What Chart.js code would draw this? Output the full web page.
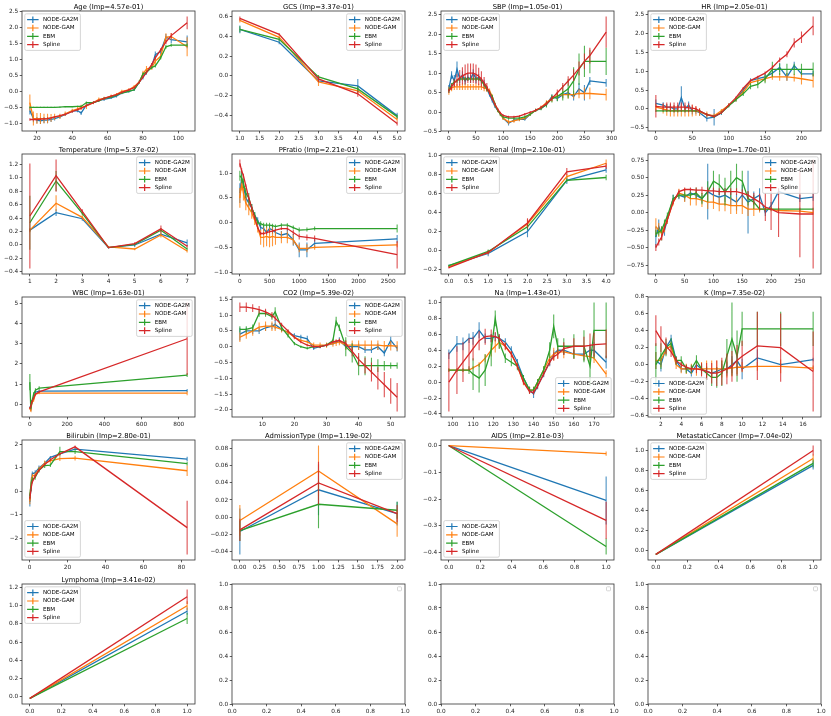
<!DOCTYPE html>
<html>
<head>
<meta charset="utf-8">
<script src="https://cdn.jsdelivr.net/npm/chart.js@4.4.1/dist/chart.umd.min.js"></script>
<style>
html, body { margin: 0; padding: 0; background: #fff; }
#fig { position: relative; width: 831px; height: 716px; overflow: hidden; }
#fig canvas { position: absolute; }
</style>
</head>
<body>
<div id="fig"></div>
<script>
// Series names / colours (matplotlib tab10)
const SERIES = ['NODE-GA2M', 'NODE-GAM', 'EBM', 'Spline'];
const COLORS = ['#1f77b4', '#ff7f0e', '#2ca02c', '#d62728'];

// ---- Age ----
const ageX = [16, 18, 20, 22, 24, 26, 28, 30, 33, 36, 40, 43, 45, 48, 52, 55, 58, 62, 65, 68, 72, 75, 78, 80, 82, 85, 87, 90, 93, 96, 105];
const ageGa2m = [-0.6, -0.85, -0.9, -0.92, -0.9, -0.9, -0.88, -0.85, -0.8, -0.72, -0.62, -0.6, -0.68, -0.42, -0.35, -0.28, -0.25, -0.2, -0.15, -0.05, 0.0, 0.05, 0.3, 0.45, 0.6, 0.8, 1.15, 1.25, 1.7, 1.62, 1.55];
const ageGa2mErr = [0.12, 0.12, 0.1, 0.1, 0.1, 0.1, 0.08, 0.06, 0.05, 0.05, 0.05, 0.05, 0.06, 0.05, 0.04, 0.04, 0.05, 0.04, 0.04, 0.04, 0.04, 0.04, 0.06, 0.08, 0.08, 0.08, 0.1, 0.08, 0.1, 0.1, 0.2];
const ageGam = [-0.35, -0.85, -0.85, -0.85, -0.85, -0.85, -0.83, -0.8, -0.78, -0.7, -0.6, -0.55, -0.5, -0.45, -0.35, -0.25, -0.22, -0.15, -0.1, 0.0, 0.05, 0.15, 0.3, 0.55, 0.7, 0.75, 0.95, 1.1, 1.7, 1.72, 1.4];
const ageGamErr = [0.25, 0.22, 0.17, 0.17, 0.15, 0.15, 0.12, 0.1, 0.08, 0.07, 0.06, 0.06, 0.08, 0.1, 0.05, 0.06, 0.05, 0.05, 0.05, 0.05, 0.05, 0.05, 0.06, 0.1, 0.1, 0.08, 0.1, 0.08, 0.12, 0.1, 0.3];
const ageEbm = [-0.5, -0.5, -0.5, -0.5, -0.5, -0.5, -0.5, -0.5, -0.49, -0.48, -0.48, -0.47, -0.47, -0.35, -0.35, -0.3, -0.22, -0.18, -0.12, -0.05, 0.0, 0.05, 0.3, 0.55, 0.6, 0.75, 0.8, 1.05, 1.4, 1.45, 1.45];
const ageEbmErr = [0.03, 0.02, 0.02, 0.02, 0.02, 0.02, 0.02, 0.02, 0.02, 0.02, 0.02, 0.02, 0.03, 0.03, 0.03, 0.03, 0.03, 0.03, 0.03, 0.03, 0.03, 0.03, 0.04, 0.05, 0.05, 0.05, 0.05, 0.05, 0.06, 0.05, 0.05];
const ageSpline = [-0.88, -0.88, -0.88, -0.87, -0.86, -0.85, -0.83, -0.8, -0.76, -0.72, -0.63, -0.57, -0.53, -0.45, -0.35, -0.28, -0.22, -0.15, -0.1, -0.03, 0.05, 0.12, 0.3, 0.45, 0.6, 0.85, 1.05, 1.3, 1.55, 1.75, 2.15];
const ageSplineErr = [0.04, 0.03, 0.03, 0.03, 0.03, 0.03, 0.03, 0.03, 0.03, 0.03, 0.03, 0.03, 0.03, 0.03, 0.03, 0.03, 0.03, 0.03, 0.03, 0.03, 0.03, 0.03, 0.03, 0.04, 0.04, 0.04, 0.05, 0.05, 0.06, 0.08, 0.2];
const ageXTicks = [20, 40, 60, 80, 100];
const ageYTicks = [-1.0, -0.5, 0.0, 0.5, 1.0, 1.5, 2.0, 2.5];

// ---- GCS ----
const gcsX = [1, 2, 3, 4, 5];
const gcsGa2m = [0.47, 0.34, -0.05, -0.1, -0.4];
const gcsGa2mErr = [0.04, 0.02, 0.02, 0.07, 0.03];
const gcsGam = [0.56, 0.39, -0.06, -0.15, -0.44];
const gcsGamErr = [0.02, 0.02, 0.04, 0.03, 0.02];
const gcsEbm = [0.47, 0.37, -0.01, -0.13, -0.41];
const gcsEbmErr = [0.03, 0.02, 0.02, 0.03, 0.02];
const gcsSpline = [0.58, 0.42, -0.03, -0.18, -0.48];
const gcsSplineErr = [0.02, 0.01, 0.03, 0.03, 0.02];
const gcsXTicks = [1.0, 1.5, 2.0, 2.5, 3.0, 3.5, 4.0, 4.5, 5.0];
const gcsYTicks = [-0.4, -0.2, 0.0, 0.2, 0.4, 0.6];

// ---- SBP ----
const sbpX = [0, 5, 10, 15, 20, 25, 30, 35, 40, 45, 50, 55, 60, 65, 70, 75, 80, 85, 90, 95, 100, 110, 120, 130, 140, 150, 160, 170, 180, 190, 200, 210, 220, 230, 240, 250, 260, 290];
const sbpGa2m = [0.6, 0.95, 0.8, 1.1, 0.85, 0.95, 0.8, 0.9, 0.85, 1.0, 0.85, 0.9, 0.8, 0.75, 0.6, 0.45, 0.3, 0.15, 0.05, -0.05, -0.15, -0.28, -0.2, -0.18, -0.18, -0.05, 0.05, 0.1, 0.2, 0.4, 0.35, 0.45, 0.5, 0.4, 0.6, 0.5, 0.8, 0.75];
const sbpGa2mErr = [0.1, 0.1, 0.15, 0.2, 0.1, 0.1, 0.1, 0.1, 0.1, 0.1, 0.1, 0.08, 0.08, 0.08, 0.06, 0.05, 0.05, 0.04, 0.04, 0.04, 0.04, 0.06, 0.05, 0.04, 0.04, 0.04, 0.04, 0.04, 0.05, 0.06, 0.06, 0.08, 0.1, 0.1, 0.15, 0.2, 0.1, 0.1];
const sbpGam = [0.55, 0.62, 0.65, 0.65, 0.65, 0.65, 0.65, 0.65, 0.65, 0.65, 0.65, 0.65, 0.65, 0.62, 0.6, 0.55, 0.4, 0.2, 0.05, -0.05, -0.15, -0.25, -0.22, -0.18, -0.15, -0.05, 0.05, 0.12, 0.25, 0.35, 0.42, 0.45, 0.45, 0.45, 0.48, 0.48, 0.48, 0.45];
const sbpGamErr = [0.1, 0.08, 0.08, 0.08, 0.08, 0.08, 0.08, 0.08, 0.08, 0.08, 0.08, 0.08, 0.08, 0.08, 0.08, 0.06, 0.06, 0.05, 0.05, 0.05, 0.05, 0.06, 0.05, 0.05, 0.05, 0.04, 0.04, 0.05, 0.06, 0.08, 0.1, 0.1, 0.1, 0.1, 0.12, 0.15, 0.15, 0.15];
const sbpEbm = [0.55, 0.7, 0.78, 0.8, 0.85, 0.85, 0.85, 0.85, 0.85, 0.85, 0.85, 0.85, 0.8, 0.7, 0.6, 0.5, 0.4, 0.2, 0.05, -0.05, -0.12, -0.15, -0.15, -0.15, -0.12, -0.05, 0.05, 0.1, 0.2, 0.35, 0.4, 0.5, 0.6, 0.8, 1.1, 1.3, 1.3, 1.3];
const sbpEbmErr = [0.05, 0.05, 0.05, 0.05, 0.05, 0.05, 0.05, 0.05, 0.05, 0.05, 0.05, 0.05, 0.05, 0.05, 0.05, 0.04, 0.04, 0.04, 0.04, 0.04, 0.04, 0.04, 0.04, 0.04, 0.04, 0.04, 0.04, 0.05, 0.08, 0.1, 0.12, 0.2, 0.25, 0.35, 0.4, 0.4, 0.3, 0.35];
const sbpSpline = [0.55, 0.65, 0.75, 0.82, 0.88, 0.93, 0.97, 1.0, 1.0, 1.0, 0.97, 0.92, 0.85, 0.75, 0.65, 0.5, 0.35, 0.2, 0.08, -0.02, -0.08, -0.12, -0.12, -0.1, -0.05, 0.0, 0.05, 0.12, 0.22, 0.35, 0.5, 0.65, 0.8, 0.95, 1.12, 1.3, 1.45, 2.05];
const sbpSplineErr = [0.05, 0.08, 0.1, 0.15, 0.2, 0.22, 0.25, 0.25, 0.25, 0.25, 0.25, 0.22, 0.2, 0.15, 0.1, 0.06, 0.04, 0.03, 0.03, 0.03, 0.03, 0.03, 0.03, 0.03, 0.03, 0.03, 0.03, 0.04, 0.05, 0.06, 0.08, 0.1, 0.12, 0.15, 0.18, 0.2, 0.2, 0.4];
const sbpXTicks = [0, 50, 100, 150, 200, 250, 300];
const sbpYTicks = [-0.5, 0.0, 0.5, 1.0, 1.5, 2.0, 2.5];

// ---- HR ----
const hrX = [0, 10, 15, 20, 25, 30, 35, 40, 45, 50, 55, 60, 70, 80, 90, 100, 110, 120, 130, 140, 150, 160, 170, 180, 190, 200, 216];
const hrGa2m = [0.15, 0.1, 0.05, 0.05, 0.0, 0.0, 0.3, 0.0, 0.1, -0.05, -0.05, -0.1, -0.25, -0.22, -0.1, 0.1, 0.25, 0.5, 0.75, 0.8, 0.85, 0.95, 1.1, 0.85, 1.15, 0.93, 0.93];
const hrGa2mErr = [0.1, 0.08, 0.08, 0.08, 0.1, 0.1, 0.3, 0.1, 0.1, 0.1, 0.08, 0.08, 0.08, 0.22, 0.06, 0.05, 0.05, 0.05, 0.06, 0.06, 0.08, 0.1, 0.12, 0.1, 0.1, 0.08, 0.08];
const hrGam = [0.05, 0.0, -0.03, -0.05, -0.05, -0.05, -0.05, -0.05, -0.05, -0.05, -0.06, -0.08, -0.15, -0.18, -0.05, 0.1, 0.25, 0.45, 0.7, 0.75, 0.8, 0.85, 0.85, 0.85, 0.83, 0.8, 0.75];
const hrGamErr = [0.08, 0.12, 0.15, 0.15, 0.15, 0.15, 0.15, 0.15, 0.15, 0.15, 0.12, 0.1, 0.08, 0.06, 0.05, 0.05, 0.05, 0.05, 0.06, 0.08, 0.08, 0.08, 0.1, 0.1, 0.1, 0.15, 0.18];
const hrEbm = [-0.05, -0.05, -0.05, -0.05, -0.05, -0.05, -0.05, -0.05, -0.05, -0.05, -0.05, -0.05, -0.15, -0.2, -0.1, 0.08, 0.25, 0.4, 0.6, 0.65, 0.8, 1.05, 1.05, 1.05, 1.05, 1.05, 1.05];
const hrEbmErr = [0.03, 0.03, 0.03, 0.03, 0.03, 0.03, 0.03, 0.03, 0.03, 0.03, 0.03, 0.03, 0.04, 0.04, 0.04, 0.04, 0.05, 0.06, 0.08, 0.1, 0.12, 0.2, 0.15, 0.15, 0.15, 0.15, 0.18];
const hrSpline = [0.07, 0.05, 0.05, 0.05, 0.05, 0.05, 0.05, 0.05, 0.03, 0.02, 0.0, -0.05, -0.15, -0.2, -0.1, 0.1, 0.3, 0.55, 0.75, 0.85, 0.95, 1.1, 1.3, 1.45, 1.75, 1.9, 2.2];
const hrSplineErr = [0.3, 0.1, 0.12, 0.12, 0.12, 0.12, 0.12, 0.12, 0.12, 0.1, 0.08, 0.06, 0.04, 0.03, 0.03, 0.03, 0.03, 0.03, 0.03, 0.03, 0.04, 0.05, 0.06, 0.08, 0.12, 0.15, 0.25];
const hrXTicks = [0, 50, 100, 150, 200];
const hrYTicks = [-0.5, 0.0, 0.5, 1.0, 1.5, 2.0, 2.5];

// ---- Temperature ----
const tempX = [1, 2, 3, 4, 5, 6, 7];
const tempGa2m = [0.22, 0.48, 0.39, -0.04, 0.0, 0.16, 0.03];
const tempGa2mErr = [0.02, 0.05, 0.03, 0.01, 0.03, 0.03, 0.05];
const tempGam = [0.22, 0.62, 0.41, -0.03, -0.06, 0.15, -0.09];
const tempGamErr = [0.03, 0.12, 0.03, 0.01, 0.02, 0.04, 0.02];
const tempEbm = [0.33, 0.95, 0.47, -0.04, 0.01, 0.22, -0.06];
const tempEbmErr = [0.4, 0.15, 0.03, 0.01, 0.02, 0.03, 0.02];
const tempSpline = [0.43, 1.03, 0.5, -0.04, 0.02, 0.24, -0.02];
const tempSplineErr = [0.78, 0.24, 0.03, 0.01, 0.02, 0.05, 0.02];
const tempXTicks = [1, 2, 3, 4, 5, 6, 7];
const tempYTicks = [-0.4, -0.2, 0.0, 0.2, 0.4, 0.6, 0.8, 1.0, 1.2];

// ---- PFratio ----
const pfX = [0, 30, 60, 100, 150, 200, 250, 300, 350, 400, 450, 500, 550, 600, 700, 800, 900, 1000, 1130, 1260, 2650];
const pfGa2m = [0.6, 0.9, 0.75, 0.5, 0.4, 0.3, 0.15, 0.05, -0.1, -0.12, -0.2, -0.12, -0.15, -0.2, -0.25, -0.22, -0.35, -0.55, -0.55, -0.42, -0.33];
const pfGa2mErr = [0.2, 0.15, 0.1, 0.1, 0.08, 0.08, 0.06, 0.06, 0.06, 0.06, 0.05, 0.06, 0.08, 0.08, 0.08, 0.1, 0.12, 0.15, 0.15, 0.1, 0.08];
const pfGam = [0.5, 0.8, 0.6, 0.4, 0.3, 0.2, 0.05, -0.1, -0.3, -0.3, -0.28, -0.3, -0.28, -0.3, -0.3, -0.3, -0.35, -0.52, -0.52, -0.5, -0.45];
const pfGamErr = [0.2, 0.15, 0.15, 0.15, 0.15, 0.12, 0.1, 0.1, 0.15, 0.2, 0.2, 0.2, 0.2, 0.15, 0.12, 0.12, 0.1, 0.08, 0.08, 0.05, 0.05];
const pfEbm = [0.95, 0.9, 0.8, 0.6, 0.5, 0.3, 0.15, 0.0, -0.02, -0.05, -0.05, -0.05, -0.06, -0.08, -0.05, -0.05, -0.1, -0.15, -0.14, -0.12, -0.12];
const pfEbmErr = [0.1, 0.1, 0.1, 0.1, 0.1, 0.08, 0.06, 0.05, 0.05, 0.05, 0.05, 0.05, 0.04, 0.04, 0.04, 0.04, 0.04, 0.05, 0.04, 0.04, 0.08];
const pfSpline = [1.2, 1.05, 0.95, 0.75, 0.5, 0.3, 0.1, -0.1, -0.22, -0.22, -0.2, -0.18, -0.17, -0.15, -0.12, -0.12, -0.2, -0.28, -0.3, -0.32, -0.65];
const pfSplineErr = [0.08, 0.05, 0.04, 0.03, 0.03, 0.03, 0.03, 0.03, 0.03, 0.03, 0.03, 0.03, 0.03, 0.03, 0.03, 0.04, 0.05, 0.06, 0.06, 0.06, 0.28];
const pfXTicks = [0, 500, 1000, 1500, 2000, 2500];
const pfYTicks = [-1.0, -0.5, 0.0, 0.5, 1.0];

// ---- Renal ----
const renalX = [0, 1, 2, 3, 4];
const renalGa2m = [-0.16, -0.03, 0.2, 0.74, 0.85];
const renalGa2mErr = [0.01, 0.03, 0.06, 0.04, 0.03];
const renalGam = [-0.17, -0.02, 0.28, 0.78, 0.92];
const renalGamErr = [0.01, 0.02, 0.05, 0.03, 0.04];
const renalEbm = [-0.16, -0.01, 0.25, 0.74, 0.77];
const renalEbmErr = [0.01, 0.02, 0.03, 0.02, 0.03];
const renalSpline = [-0.18, -0.02, 0.29, 0.83, 0.89];
const renalSplineErr = [0.01, 0.02, 0.05, 0.04, 0.03];
const renalXTicks = [0.0, 0.5, 1.0, 1.5, 2.0, 2.5, 3.0, 3.5, 4.0];
const renalYTicks = [-0.2, 0.0, 0.2, 0.4, 0.6, 0.8, 1.0];

// ---- Urea ----
const ureaX = [0, 5, 10, 15, 20, 30, 40, 50, 60, 70, 80, 90, 100, 110, 120, 130, 140, 150, 160, 170, 180, 190, 200, 213, 250, 273];
const ureaGa2m = [-0.35, -0.2, -0.3, -0.25, -0.1, 0.2, 0.25, 0.22, 0.28, 0.25, 0.2, 0.3, 0.25, 0.22, 0.25, 0.2, 0.15, 0.25, 0.15, 0.2, 0.25, 0.0, 0.1, 0.3, 0.2, 0.22];
const ureaGa2mErr = [0.15, 0.1, 0.1, 0.08, 0.06, 0.06, 0.06, 0.06, 0.06, 0.06, 0.06, 0.4, 0.1, 0.1, 0.1, 0.1, 0.12, 0.15, 0.45, 0.1, 0.1, 0.05, 0.05, 0.05, 0.05, 0.05];
const ureaGam = [-0.2, -0.25, -0.3, -0.2, -0.1, 0.15, 0.28, 0.25, 0.2, 0.2, 0.18, 0.15, 0.15, 0.12, 0.12, 0.1, 0.1, 0.1, 0.05, 0.05, 0.05, 0.05, 0.05, 0.03, 0.02, 0.0];
const ureaGamErr = [0.12, 0.1, 0.1, 0.08, 0.06, 0.05, 0.06, 0.1, 0.1, 0.1, 0.1, 0.1, 0.1, 0.1, 0.1, 0.12, 0.12, 0.12, 0.1, 0.1, 0.05, 0.03, 0.03, 0.03, 0.03, 0.03];
const ureaEbm = [-0.3, -0.28, -0.25, -0.15, -0.05, 0.2, 0.25, 0.25, 0.25, 0.28, 0.2, 0.3, 0.45, 0.4, 0.3, 0.4, 0.5, 0.45, 0.2, 0.15, 0.05, 0.05, 0.05, 0.05, 0.05, 0.05];
const ureaEbmErr = [0.05, 0.05, 0.05, 0.05, 0.05, 0.05, 0.05, 0.05, 0.05, 0.08, 0.08, 0.15, 0.15, 0.15, 0.2, 0.2, 0.2, 0.15, 0.1, 0.1, 0.02, 0.02, 0.02, 0.02, 0.02, 0.02];
const ureaSpline = [-0.5, -0.42, -0.35, -0.22, -0.1, 0.15, 0.3, 0.33, 0.33, 0.32, 0.32, 0.31, 0.31, 0.3, 0.3, 0.3, 0.3, 0.28, 0.25, 0.2, 0.15, 0.08, 0.05, 0.0, -0.02, -0.02];
const ureaSplineErr = [0.05, 0.05, 0.04, 0.03, 0.03, 0.03, 0.03, 0.03, 0.03, 0.04, 0.05, 0.05, 0.05, 0.05, 0.05, 0.05, 0.05, 0.05, 0.06, 0.08, 0.12, 0.2, 0.3, 0.35, 0.62, 0.78];
const ureaXTicks = [0, 50, 100, 150, 200, 250];
const ureaYTicks = [-0.75, -0.5, -0.25, 0.0, 0.25, 0.5, 0.75];

// ---- WBC ----
const wbcX = [0, 5, 10, 20, 30, 50, 845];
const wbcGa2m = [-0.15, -0.25, 0.1, 0.3, 0.6, 0.65, 0.68];
const wbcGa2mErr = [0.05, 0.05, 0.1, 0.08, 0.05, 0.05, 0.08];
const wbcGam = [-0.2, -0.3, 0.05, 0.2, 0.5, 0.55, 0.55];
const wbcGamErr = [0.05, 0.06, 0.1, 0.08, 0.05, 0.05, 0.1];
const wbcEbm = [1.1, -0.2, 0.1, 0.5, 0.7, 0.8, 1.45];
const wbcEbmErr = [0.4, 0.05, 0.1, 0.1, 0.1, 0.1, 0.1];
const wbcSpline = [-0.2, -0.1, 0.1, 0.3, 0.5, 0.62, 3.25];
const wbcSplineErr = [0.05, 0.05, 0.05, 0.05, 0.05, 0.05, 1.8];
const wbcXTicks = [0, 200, 400, 600, 800];
const wbcYTicks = [0, 1, 2, 3, 4, 5];

// ---- CO2 ----
const co2X = [3, 5, 7, 9, 11, 13, 14, 16, 18, 20, 22, 24, 26, 28, 30, 32, 33, 34, 36, 38, 40, 42, 44, 46, 48, 50, 52];
const co2Ga2m = [0.4, 0.5, 0.5, 0.5, 0.6, 0.65, 0.7, 0.55, 0.45, 0.35, 0.3, 0.25, -0.05, 0.0, 0.05, 0.1, 0.15, 0.2, 0.0, 0.0, 0.0, -0.1, -0.1, 0.0, -0.2, 0.2, -0.05];
const co2Ga2mErr = [0.2, 0.1, 0.1, 0.1, 0.1, 0.1, 0.15, 0.08, 0.08, 0.08, 0.08, 0.1, 0.05, 0.05, 0.05, 0.05, 0.05, 0.1, 0.08, 0.1, 0.1, 0.1, 0.1, 0.1, 0.1, 0.15, 0.1];
const co2Gam = [0.3, 0.4, 0.5, 0.62, 0.65, 0.65, 0.62, 0.55, 0.45, 0.3, 0.2, 0.15, 0.05, 0.05, 0.05, 0.1, 0.12, 0.15, 0.05, 0.05, 0.05, 0.05, 0.05, 0.05, 0.03, 0.03, 0.02];
const co2GamErr = [0.15, 0.15, 0.15, 0.15, 0.15, 0.15, 0.12, 0.1, 0.08, 0.06, 0.05, 0.05, 0.08, 0.08, 0.08, 0.1, 0.1, 0.1, 0.15, 0.15, 0.15, 0.15, 0.15, 0.15, 0.15, 0.15, 0.15];
const co2Ebm = [0.55, 0.55, 0.6, 1.05, 1.05, 0.95, 1.1, 0.6, 0.35, 0.1, 0.0, -0.05, 0.0, 0.0, 0.05, 0.2, 0.8, 0.6, 0.0, -0.2, -0.6, -0.6, -0.6, -0.6, -0.6, -0.6, -0.6];
const co2EbmErr = [0.1, 0.1, 0.1, 0.1, 0.1, 0.1, 0.15, 0.1, 0.06, 0.05, 0.04, 0.04, 0.04, 0.04, 0.05, 0.05, 0.15, 0.1, 0.3, 0.3, 0.3, 0.3, 0.25, 0.2, 0.15, 0.1, 0.1];
const co2Spline = [1.25, 1.25, 1.22, 1.17, 1.1, 1.0, 0.9, 0.7, 0.5, 0.3, 0.15, 0.05, 0.0, 0.0, 0.05, 0.15, 0.18, 0.2, 0.1, -0.15, -0.4, -0.6, -0.8, -1.0, -1.2, -1.4, -1.6];
const co2SplineErr = [0.15, 0.15, 0.12, 0.12, 0.1, 0.1, 0.08, 0.06, 0.05, 0.04, 0.04, 0.04, 0.04, 0.04, 0.04, 0.05, 0.05, 0.05, 0.1, 0.15, 0.2, 0.25, 0.3, 0.35, 0.4, 0.4, 0.45];
const co2XTicks = [10, 20, 30, 40, 50];
const co2YTicks = [-2.0, -1.5, -1.0, -0.5, 0.0, 0.5, 1.0, 1.5];

// ---- Na ----
const naX = [98, 102, 105, 108, 110, 113, 116, 119, 121, 123, 126, 129, 132, 135, 138, 140, 142, 145, 148, 150, 152, 155, 160, 165, 168, 170, 176];
const naGa2m = [0.35, 0.48, 0.48, 0.55, 0.55, 0.65, 0.55, 0.55, 0.57, 0.55, 0.5, 0.4, 0.25, 0.05, -0.1, -0.15, -0.05, 0.1, 0.25, 0.35, 0.4, 0.4, 0.35, 0.35, 0.4, 0.4, 0.25];
const naGa2mErr = [0.06, 0.1, 0.08, 0.06, 0.08, 0.1, 0.06, 0.05, 0.05, 0.05, 0.05, 0.05, 0.04, 0.04, 0.04, 0.05, 0.04, 0.04, 0.05, 0.05, 0.05, 0.06, 0.06, 0.08, 0.08, 0.1, 0.08];
const naGam = [0.15, 0.15, 0.15, 0.15, 0.18, 0.22, 0.3, 0.4, 0.45, 0.5, 0.45, 0.35, 0.2, 0.0, -0.1, -0.1, 0.0, 0.15, 0.3, 0.35, 0.38, 0.38, 0.35, 0.33, 0.32, 0.3, 0.1];
const naGamErr = [0.02, 0.02, 0.02, 0.02, 0.02, 0.03, 0.05, 0.08, 0.08, 0.08, 0.05, 0.04, 0.04, 0.04, 0.04, 0.04, 0.04, 0.05, 0.06, 0.08, 0.08, 0.08, 0.06, 0.06, 0.06, 0.06, 0.05];
const naEbm = [0.15, 0.15, 0.15, 0.15, 0.1, 0.05, 0.15, 0.4, 0.8, 0.5, 0.3, 0.25, 0.2, 0.05, -0.1, -0.1, 0.0, 0.15, 0.4, 0.7, 0.45, 0.45, 0.45, 0.45, 0.2, 0.65, 0.65];
const naEbmErr = [0.02, 0.02, 0.02, 0.05, 0.2, 0.18, 0.2, 0.2, 0.1, 0.08, 0.06, 0.05, 0.05, 0.04, 0.04, 0.04, 0.04, 0.05, 0.1, 0.15, 0.1, 0.1, 0.15, 0.2, 0.25, 0.35, 0.35];
const naSpline = [0.0, 0.15, 0.25, 0.35, 0.42, 0.52, 0.57, 0.58, 0.57, 0.55, 0.45, 0.35, 0.2, 0.0, -0.12, -0.13, -0.05, 0.1, 0.25, 0.32, 0.35, 0.42, 0.45, 0.45, 0.46, 0.47, 0.48];
const naSplineErr = [0.37, 0.3, 0.25, 0.2, 0.15, 0.12, 0.1, 0.08, 0.06, 0.05, 0.04, 0.04, 0.03, 0.03, 0.03, 0.03, 0.03, 0.03, 0.04, 0.05, 0.06, 0.08, 0.1, 0.12, 0.15, 0.15, 0.18];
const naXTicks = [100, 110, 120, 130, 140, 150, 160, 170];
const naYTicks = [-0.4, -0.2, 0.0, 0.2, 0.4, 0.6, 0.8, 1.0];

// ---- K ----
const kX = [1.5, 2, 2.5, 3, 3.5, 4, 4.5, 5, 5.5, 6, 6.5, 7, 7.5, 8, 8.5, 9, 9.5, 10, 11.5, 13.8, 17];
const kGa2m = [0.05, 0.0, 0.2, 0.3, 0.05, -0.05, -0.05, -0.1, 0.0, -0.05, -0.08, -0.1, -0.08, -0.05, -0.05, 0.0, 0.05, -0.05, 0.08, 0.0, 0.06];
const kGa2mErr = [0.1, 0.08, 0.06, 0.05, 0.05, 0.04, 0.04, 0.04, 0.05, 0.04, 0.05, 0.05, 0.05, 0.06, 0.08, 0.1, 0.1, 0.12, 0.1, 0.02, 0.02];
const kGam = [0.05, 0.05, 0.18, 0.22, 0.0, -0.05, -0.05, -0.05, -0.05, -0.05, -0.05, -0.05, -0.05, -0.05, -0.05, -0.04, -0.03, -0.03, -0.02, -0.02, -0.04];
const kGamErr = [0.1, 0.08, 0.06, 0.05, 0.05, 0.05, 0.06, 0.06, 0.08, 0.08, 0.1, 0.1, 0.1, 0.1, 0.1, 0.1, 0.08, 0.06, 0.05, 0.08, 0.03];
const kEbm = [0.0, 0.1, 0.2, 0.25, 0.05, 0.05, -0.05, -0.05, 0.05, -0.05, -0.1, -0.15, -0.15, -0.1, 0.1, 0.3, 0.1, 0.42, 0.42, 0.42, 0.42];
const kEbmErr = [0.25, 0.15, 0.1, 0.06, 0.05, 0.05, 0.05, 0.05, 0.06, 0.06, 0.08, 0.1, 0.12, 0.15, 0.2, 0.43, 0.3, 0.2, 0.2, 0.2, 0.2];
const kSpline = [0.4, 0.3, 0.22, 0.15, 0.05, 0.0, -0.03, -0.05, -0.05, -0.06, -0.08, -0.1, -0.1, -0.08, -0.05, -0.02, 0.05, 0.1, 0.22, 0.2, -0.08];
const kSplineErr = [0.18, 0.15, 0.1, 0.06, 0.04, 0.03, 0.03, 0.03, 0.05, 0.08, 0.1, 0.12, 0.15, 0.16, 0.18, 0.18, 0.18, 0.18, 0.4, 0.4, 0.47];
const kXTicks = [2, 4, 6, 8, 10, 12, 14, 16];
const kYTicks = [-0.6, -0.4, -0.2, 0.0, 0.2, 0.4, 0.6, 0.8];

// ---- Bilirubin ----
const biliX = [0.2, 0.5, 1, 1.5, 3, 5, 8, 11, 16, 24, 83];
const biliGa2m = [-0.45, -0.1, 0.3, 0.75, 0.8, 1.0, 1.2, 1.45, 1.6, 1.8, 1.38];
const biliGa2mErr = [0.2, 0.2, 0.3, 0.1, 0.1, 0.1, 0.08, 0.06, 0.06, 0.05, 0.1];
const biliGam = [-0.4, 0.0, 0.4, 0.65, 0.7, 0.95, 1.2, 1.3, 1.4, 1.42, 0.88];
const biliGamErr = [0.15, 0.15, 0.15, 0.1, 0.1, 0.1, 0.12, 0.1, 0.1, 0.1, 0.22];
const biliEbm = [-0.2, 0.0, 0.4, 0.5, 0.6, 0.9, 1.1, 1.12, 1.7, 1.7, 1.18];
const biliEbmErr = [0.1, 0.1, 0.1, 0.1, 0.1, 0.1, 0.1, 0.08, 0.2, 0.1, 0.08];
const biliSpline = [-0.3, -0.1, 0.2, 0.4, 0.65, 0.9, 1.15, 1.35, 1.6, 1.9, -1.55];
const biliSplineErr = [0.05, 0.05, 0.05, 0.05, 0.05, 0.05, 0.05, 0.05, 0.05, 0.06, 1.15];
const biliXTicks = [0, 20, 40, 60, 80];
const biliYTicks = [-2, -1, 0, 1, 2];

// ---- AdmissionType ----
const admX = [0, 1, 2];
const admGa2m = [-0.017, 0.032, 0.004];
const admGa2mErr = [0.027, 0.03, 0.014];
const admGam = [-0.004, 0.054, -0.008];
const admGamErr = [0.018, 0.03, 0.015];
const admEbm = [-0.016, 0.015, 0.008];
const admEbmErr = [0.012, 0.028, 0.01];
const admSpline = [-0.015, 0.04, 0.004];
const admSplineErr = [0.013, 0.025, 0.01];
const admXTicks = [0.0, 0.25, 0.5, 0.75, 1.0, 1.25, 1.5, 1.75, 2.0];
const admYTicks = [-0.04, -0.02, 0.0, 0.02, 0.04, 0.06, 0.08];

// ---- AIDS ----
const aidsX = [0, 1];
const aidsGa2m = [0.0, -0.205];
const aidsGa2mErr = [0.001, 0.09];
const aidsGam = [0.0, -0.03];
const aidsGamErr = [0.001, 0.008];
const aidsEbm = [0.0, -0.378];
const aidsEbmErr = [0.001, 0.03];
const aidsSpline = [0.0, -0.28];
const aidsSplineErr = [0.001, 0.07];
const aidsYTicks = [-0.4, -0.3, -0.2, -0.1, 0.0];

// ---- MetastaticCancer ----
const metaX = [0, 1];
const metaGa2m = [-0.04, 0.85];
const metaGa2mErr = [0.002, 0.04];
const metaGam = [-0.04, 0.92];
const metaGamErr = [0.002, 0.04];
const metaEbm = [-0.04, 0.87];
const metaEbmErr = [0.002, 0.04];
const metaSpline = [-0.04, 1.0];
const metaSplineErr = [0.002, 0.05];
const metaYTicks = [0.0, 0.2, 0.4, 0.6, 0.8, 1.0];

// ---- Lymphoma ----
const lymphX = [0, 1];
const lymphGa2m = [-0.02, 0.94];
const lymphGa2mErr = [0.002, 0.04];
const lymphGam = [-0.02, 1.0];
const lymphGamErr = [0.002, 0.05];
const lymphEbm = [-0.02, 0.86];
const lymphEbmErr = [0.002, 0.06];
const lymphSpline = [-0.02, 1.1];
const lymphSplineErr = [0.002, 0.08];
const lymphYTicks = [0.0, 0.2, 0.4, 0.6, 0.8, 1.0, 1.2];

const unitTicks = [0.0, 0.2, 0.4, 0.6, 0.8, 1.0];

// panel list in grid order (row by row)
const panels = [
    { title: 'Age (Imp=4.57e-01)', x: ageX, y: [ageGa2m, ageGam, ageEbm, ageSpline], e: [ageGa2mErr, ageGamErr, ageEbmErr, ageSplineErr], xt: ageXTicks, yt: ageYTicks, xd: 0, yd: 1, leg: 'ul' },
    { title: 'GCS (Imp=3.37e-01)', x: gcsX, y: [gcsGa2m, gcsGam, gcsEbm, gcsSpline], e: [gcsGa2mErr, gcsGamErr, gcsEbmErr, gcsSplineErr], xt: gcsXTicks, yt: gcsYTicks, xd: 1, yd: 1, leg: 'ur' },
    { title: 'SBP (Imp=1.05e-01)', x: sbpX, y: [sbpGa2m, sbpGam, sbpEbm, sbpSpline], e: [sbpGa2mErr, sbpGamErr, sbpEbmErr, sbpSplineErr], xt: sbpXTicks, yt: sbpYTicks, xd: 0, yd: 1, leg: 'ul' },
    { title: 'HR (Imp=2.05e-01)', x: hrX, y: [hrGa2m, hrGam, hrEbm, hrSpline], e: [hrGa2mErr, hrGamErr, hrEbmErr, hrSplineErr], xt: hrXTicks, yt: hrYTicks, xd: 0, yd: 1, leg: 'ul' },
    { title: 'Temperature (Imp=5.37e-02)', x: tempX, y: [tempGa2m, tempGam, tempEbm, tempSpline], e: [tempGa2mErr, tempGamErr, tempEbmErr, tempSplineErr], xt: tempXTicks, yt: tempYTicks, xd: 0, yd: 1, leg: 'ur' },
    { title: 'PFratio (Imp=2.21e-01)', x: pfX, y: [pfGa2m, pfGam, pfEbm, pfSpline], e: [pfGa2mErr, pfGamErr, pfEbmErr, pfSplineErr], xt: pfXTicks, yt: pfYTicks, xd: 0, yd: 1, leg: 'ur' },
    { title: 'Renal (Imp=2.10e-01)', x: renalX, y: [renalGa2m, renalGam, renalEbm, renalSpline], e: [renalGa2mErr, renalGamErr, renalEbmErr, renalSplineErr], xt: renalXTicks, yt: renalYTicks, xd: 1, yd: 1, leg: 'ul' },
    { title: 'Urea (Imp=1.70e-01)', x: ureaX, y: [ureaGa2m, ureaGam, ureaEbm, ureaSpline], e: [ureaGa2mErr, ureaGamErr, ureaEbmErr, ureaSplineErr], xt: ureaXTicks, yt: ureaYTicks, xd: 0, yd: 2, leg: 'ur' },
    { title: 'WBC (Imp=1.63e-01)', x: wbcX, y: [wbcGa2m, wbcGam, wbcEbm, wbcSpline], e: [wbcGa2mErr, wbcGamErr, wbcEbmErr, wbcSplineErr], xt: wbcXTicks, yt: wbcYTicks, xd: 0, yd: 0, leg: 'ur' },
    { title: 'CO2 (Imp=5.39e-02)', x: co2X, y: [co2Ga2m, co2Gam, co2Ebm, co2Spline], e: [co2Ga2mErr, co2GamErr, co2EbmErr, co2SplineErr], xt: co2XTicks, yt: co2YTicks, xd: 0, yd: 1, leg: 'ur' },
    { title: 'Na (Imp=1.43e-01)', x: naX, y: [naGa2m, naGam, naEbm, naSpline], e: [naGa2mErr, naGamErr, naEbmErr, naSplineErr], xt: naXTicks, yt: naYTicks, xd: 0, yd: 1, leg: 'lr' },
    { title: 'K (Imp=7.35e-02)', x: kX, y: [kGa2m, kGam, kEbm, kSpline], e: [kGa2mErr, kGamErr, kEbmErr, kSplineErr], xt: kXTicks, yt: kYTicks, xd: 0, yd: 1, leg: 'll' },
    { title: 'Bilirubin (Imp=2.80e-01)', x: biliX, y: [biliGa2m, biliGam, biliEbm, biliSpline], e: [biliGa2mErr, biliGamErr, biliEbmErr, biliSplineErr], xt: biliXTicks, yt: biliYTicks, xd: 0, yd: 0, leg: 'll' },
    { title: 'AdmissionType (Imp=1.19e-02)', x: admX, y: [admGa2m, admGam, admEbm, admSpline], e: [admGa2mErr, admGamErr, admEbmErr, admSplineErr], xt: admXTicks, yt: admYTicks, xd: 2, yd: 2, leg: 'ur' },
    { title: 'AIDS (Imp=2.81e-03)', x: aidsX, y: [aidsGa2m, aidsGam, aidsEbm, aidsSpline], e: [aidsGa2mErr, aidsGamErr, aidsEbmErr, aidsSplineErr], xt: unitTicks, yt: aidsYTicks, xd: 1, yd: 1, leg: 'll' },
    { title: 'MetastaticCancer (Imp=7.04e-02)', x: metaX, y: [metaGa2m, metaGam, metaEbm, metaSpline], e: [metaGa2mErr, metaGamErr, metaEbmErr, metaSplineErr], xt: unitTicks, yt: metaYTicks, xd: 1, yd: 1, leg: 'ul' },
    { title: 'Lymphoma (Imp=3.41e-02)', x: lymphX, y: [lymphGa2m, lymphGam, lymphEbm, lymphSpline], e: [lymphGa2mErr, lymphGamErr, lymphEbmErr, lymphSplineErr], xt: unitTicks, yt: lymphYTicks, xd: 1, yd: 1, leg: 'ul' },
    { title: '', empty: true, xt: unitTicks, yt: unitTicks, xd: 1, yd: 1 },
    { title: '', empty: true, xt: unitTicks, yt: unitTicks, xd: 1, yd: 1 },
    { title: '', empty: true, xt: unitTicks, yt: unitTicks, xd: 1, yd: 1 }
];

// layout of the axes boxes (page pixels)
const COL_LEFT = [22, 232, 441, 648];
const ROW_TOP = [11, 154, 297, 440, 584];
const AX_W = 173, AX_H = 120;
const FONT = '"DejaVu Sans", "Liberation Sans", sans-serif';

function fmt(v, dec) {
    const s = Math.abs(v).toFixed(dec);
    return (v < 0 && Number(s) !== 0 ? '\u2212' : '') + s;
}

function limits(vals) {
    const lo = Math.min(...vals), hi = Math.max(...vals);
    const m = (hi - lo) * 0.05;
    return [lo - m, hi + m];
}

/**
 * Error bars: vertical line per point, same colour as the series
 */
const errorBarPlugin = {
    id: 'errorBars',
    afterDatasetDraw(chart, args) {
        const ds = chart.data.datasets[args.index];
        if (!ds.errors) return;
        const ctx = chart.ctx, xs = chart.scales.x, ys = chart.scales.y, a = chart.chartArea;
        ctx.save();
        ctx.beginPath();
        ctx.rect(a.left, a.top, a.right - a.left, a.bottom - a.top);
        ctx.clip();
        ctx.strokeStyle = ds.borderColor;
        ctx.globalAlpha = 0.8;
        ctx.lineWidth = 1.1;
        ctx.beginPath();
        ds.data.forEach((p, i) => {
            const px = xs.getPixelForValue(p.x);
            ctx.moveTo(px, ys.getPixelForValue(p.y - ds.errors[i]));
            ctx.lineTo(px, ys.getPixelForValue(p.y + ds.errors[i]));
        });
        ctx.stroke();
        ctx.restore();
    }
};

function drawLegend(ctx, a, where) {
    const fs = 5.6;
    ctx.font = fs + 'px ' + FONT;
    const tw = Math.max(...SERIES.map(s => ctx.measureText(s).width));
    const pad = 2.3, hl = 11.5, gap = 4.3, row = 8.3;
    const w = pad * 2 + hl + gap + tw;
    const h = pad * 2 + row * 3 + fs + 1.5;
    const m = 2.8;
    const left = where[1] === 'l' ? a.left + m : a.right - m - w;
    const top = where[0] === 'u' ? a.top + m : a.bottom - m - h;
    ctx.save();
    ctx.beginPath();
    ctx.roundRect(left, top, w, h, 1.5);
    ctx.fillStyle = 'rgba(255,255,255,0.8)';
    ctx.fill();
    ctx.strokeStyle = '#cccccc';
    ctx.lineWidth = 0.8;
    ctx.stroke();
    SERIES.forEach((s, i) => {
        const yc = top + pad + fs / 2 + 0.8 + i * row;
        const x0 = left + pad;
        ctx.strokeStyle = COLORS[i];
        ctx.lineWidth = 1.2;
        ctx.beginPath();
        ctx.moveTo(x0, yc);
        ctx.lineTo(x0 + hl, yc);
        ctx.moveTo(x0 + hl / 2, yc - 3.3);
        ctx.lineTo(x0 + hl / 2, yc + 3.3);
        ctx.stroke();
        ctx.fillStyle = '#000';
        ctx.textBaseline = 'middle';
        ctx.textAlign = 'left';
        ctx.fillText(s, x0 + hl + gap, yc);
    });
    ctx.restore();
}

/**
 * Frame, title and legend drawn over the plot
 */
const decoPlugin = {
    id: 'deco',
    afterDraw(chart, args, opts) {
        const ctx = chart.ctx, a = chart.chartArea;
        ctx.save();
        ctx.strokeStyle = '#333';
        ctx.lineWidth = 0.8;
        ctx.strokeRect(a.left, a.top, a.right - a.left, a.bottom - a.top);
        if (opts.title) {
            ctx.font = '6.8px ' + FONT;
            ctx.fillStyle = '#000';
            ctx.textAlign = 'center';
            ctx.textBaseline = 'alphabetic';
            ctx.fillText(opts.title, (a.left + a.right) / 2, a.top - 2.4);
        }
        ctx.restore();
        if (opts.legend) drawLegend(ctx, a, opts.legend);
        if (opts.emptyLegend) {
            ctx.save();
            ctx.strokeStyle = '#cccccc';
            ctx.fillStyle = 'rgba(255,255,255,0.8)';
            ctx.lineWidth = 0.8;
            ctx.beginPath();
            ctx.roundRect(a.right - 7.5, a.top + 2.8, 4, 4, 0.8);
            ctx.fill();
            ctx.stroke();
            ctx.restore();
        }
    }
};

const fig = document.getElementById('fig');

panels.forEach((p, idx) => {
    const col = idx % 4, row = Math.floor(idx / 4);
    const axL = COL_LEFT[col], axT = ROW_TOP[row];
    const padL = Math.min(axL, 30);
    const padR = 12, padT = 11, xH = 14;
    const canvas = document.createElement('canvas');
    canvas.width = padL + AX_W + padR;
    canvas.height = padT + AX_H + xH;
    canvas.style.left = (axL - padL) + 'px';
    canvas.style.top = (axT - padT) + 'px';
    canvas.style.width = canvas.width + 'px';
    canvas.style.height = canvas.height + 'px';
    fig.appendChild(canvas);

    let xr = [0, 1], yr = [0, 1], datasets = [];
    if (!p.empty) {
        xr = limits(p.x);
        const yv = [];
        p.y.forEach((ys, k) => ys.forEach((v, i) => { yv.push(v - p.e[k][i], v + p.e[k][i]); }));
        yr = limits(yv);
        datasets = p.y.map((ys, k) => ({
            label: SERIES[k],
            data: p.x.map((xv, i) => ({ x: xv, y: ys[i] })),
            errors: p.e[k],
            borderColor: COLORS[k],
            borderWidth: 1.3,
            pointRadius: 0,
            pointHoverRadius: 0,
            fill: false,
            tension: 0,
            order: 4 - k
        }));
    }

    const tickFont = { family: FONT, size: 5.8 };
    const gridOpts = { drawOnChartArea: false, drawTicks: true, tickLength: 2.3, color: '#333', lineWidth: 0.8 };

    new Chart(canvas, {
        type: 'line',
        data: { datasets },
        options: {
            responsive: false,
            animation: false,
            events: [],
            layout: { padding: { left: 0, top: padT, right: padR, bottom: 0 } },
            plugins: {
                legend: { display: false },
                tooltip: { enabled: false },
                deco: { title: p.title, legend: p.empty ? null : p.leg, emptyLegend: !!p.empty }
            },
            scales: {
                x: {
                    type: 'linear',
                    min: xr[0],
                    max: xr[1],
                    afterBuildTicks: s => { s.ticks = p.xt.map(v => ({ value: v })); },
                    afterFit: s => { s.height = xH; s.paddingLeft = 0; s.paddingRight = 0; },
                    ticks: { callback: v => fmt(v, p.xd), font: tickFont, color: '#222', padding: 1.3, autoSkip: false, maxRotation: 0, minRotation: 0 },
                    grid: gridOpts,
                    border: { display: false }
                },
                y: {
                    type: 'linear',
                    min: yr[0],
                    max: yr[1],
                    afterBuildTicks: s => { s.ticks = p.yt.map(v => ({ value: v })); },
                    afterFit: s => { s.width = padL; s.paddingTop = 0; s.paddingBottom = 0; },
                    ticks: { callback: v => fmt(v, p.yd), font: tickFont, color: '#222', padding: 1.5, autoSkip: false },
                    grid: gridOpts,
                    border: { display: false }
                }
            }
        },
        plugins: [errorBarPlugin, decoPlugin]
    });
});
</script>
</body>
</html>
